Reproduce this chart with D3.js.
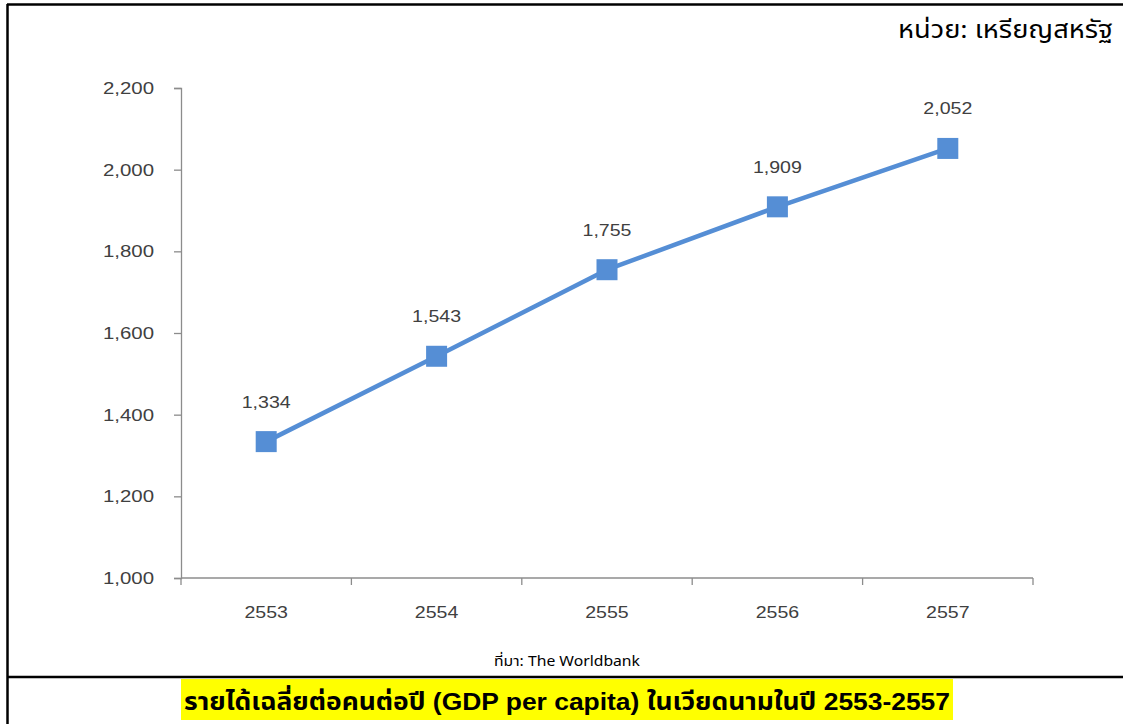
<!DOCTYPE html>
<html>
<head>
<meta charset="utf-8">
<script src="https://cdn.jsdelivr.net/npm/d3@7"></script>
<style>
  html, body { margin: 0; padding: 0; background: #fff; }
  svg { display: block; }
</style>
</head>
<body>
<svg id="chart" width="1123" height="724"></svg>
<script>
// GDP per capita, Vietnam (USD), Buddhist-era years
const years = ["2553", "2554", "2555", "2556", "2557"];
const gdpValues = [1334, 1543, 1755, 1909, 2052];
const yTicks = [1000, 1200, 1400, 1600, 1800, 2000, 2200];

const unitText = "หน่วย: เหรียญสหรัฐ";
const sourceText = "ที่มา: The Worldbank";
const titleText = "รายได้เฉลี่ยต่อคนต่อปี (GDP per capita) ในเวียดนามในปี 2553-2557";

const svg = d3.select("#chart");
const W = 1123, H = 724;
const plot = { left: 181, right: 1033, top: 88, bottom: 578 };

const thaiFont = "Tahoma, 'Noto Sans Thai', 'Leelawadee UI', sans-serif";
const numFont = "Arial, 'Liberation Sans', sans-serif";

// widen text horizontally by a factor (glyphs are drawn a little wide)
function stretch(sel, factor) {
  sel.each(function () {
    const w = this.getComputedTextLength();
    d3.select(this).attr("textLength", w * factor).attr("lengthAdjust", "spacingAndGlyphs");
  });
}

// frame
svg.append("line").attr("x1", 7).attr("x2", W).attr("y1", 4.5).attr("y2", 4.5)
  .attr("stroke", "#000").attr("stroke-width", 2.5);
svg.append("line").attr("x1", 7.5).attr("x2", 7.5).attr("y1", 4).attr("y2", H)
  .attr("stroke", "#000").attr("stroke-width", 2.5);
svg.append("line").attr("x1", 7).attr("x2", W).attr("y1", 677).attr("y2", 677)
  .attr("stroke", "#000").attr("stroke-width", 2.5);

const x = d3.scaleBand().domain(years).range([plot.left, plot.right]);
const y = d3.scaleLinear().domain([1000, 2200]).range([plot.bottom, plot.top]);

// y axis
const yAxis = svg.append("g")
  .attr("transform", `translate(${plot.left},0)`)
  .call(d3.axisLeft(y).tickValues(yTicks).tickFormat(d3.format(",")).tickSize(7).tickPadding(20));
yAxis.select(".domain").attr("stroke", "#8c8c8c").attr("stroke-width", 1.3);
yAxis.selectAll(".tick line").attr("stroke", "#8c8c8c").attr("stroke-width", 1.3);
yAxis.selectAll(".tick text").attr("font-family", numFont).attr("font-size", 17)
  .attr("fill", "#404040").call(stretch, 1.2);

// x axis with tick marks on the band edges
const xAxis = svg.append("g")
  .attr("transform", `translate(0,${plot.bottom})`)
  .call(d3.axisBottom(x).tickSize(0).tickPadding(28));
xAxis.select(".domain").remove();
xAxis.selectAll(".tick text").attr("font-family", numFont).attr("font-size", 17)
  .attr("fill", "#404040").call(stretch, 1.15);
svg.append("line").attr("x1", plot.left).attr("x2", plot.right)
  .attr("y1", plot.bottom).attr("y2", plot.bottom)
  .attr("stroke", "#8c8c8c").attr("stroke-width", 1.3);
const edges = years.map(d => x(d)).concat([plot.right]);
svg.append("g").selectAll("line").data(edges).join("line")
  .attr("x1", d => d).attr("x2", d => d)
  .attr("y1", plot.bottom).attr("y2", plot.bottom + 7)
  .attr("stroke", "#8c8c8c").attr("stroke-width", 1.3);

// series
const pts = years.map((yr, i) => ({ yr, v: gdpValues[i] }));
const cx = d => x(d.yr) + x.bandwidth() / 2;
const blue = "#558ed5";

svg.append("path").datum(pts)
  .attr("fill", "none").attr("stroke", blue).attr("stroke-width", 4.5)
  .attr("stroke-linejoin", "round")
  .attr("d", d3.line().x(cx).y(d => y(d.v)));

const ms = 21;
svg.append("g").selectAll("rect").data(pts).join("rect")
  .attr("x", d => cx(d) - ms / 2).attr("y", d => y(d.v) - ms / 2)
  .attr("width", ms).attr("height", ms).attr("fill", blue);

svg.append("g").selectAll("text").data(pts).join("text")
  .attr("x", cx).attr("y", d => y(d.v) - 34)
  .attr("text-anchor", "middle")
  .attr("font-family", numFont).attr("font-size", 17).attr("fill", "#404040")
  .text(d => d3.format(",")(d.v))
  .call(stretch, 1.15);

// unit note
svg.append("text").attr("x", 1113).attr("y", 38).attr("text-anchor", "end")
  .attr("font-family", thaiFont).attr("font-size", 24).attr("fill", "#000")
  .text(unitText)
  .attr("textLength", 215).attr("lengthAdjust", "spacingAndGlyphs");

// source
svg.append("text").attr("x", 567).attr("y", 666).attr("text-anchor", "middle")
  .attr("font-family", thaiFont).attr("font-size", 14).attr("fill", "#000")
  .text(sourceText)
  .attr("textLength", 146).attr("lengthAdjust", "spacingAndGlyphs");

// title with yellow highlight
svg.append("rect")
  .attr("x", 181).attr("y", 679).attr("width", 772).attr("height", 41)
  .attr("fill", "#ffff00");
svg.append("text").attr("x", 567).attr("y", 710).attr("text-anchor", "middle")
  .attr("font-family", "Arial, 'Liberation Sans', " + thaiFont).attr("font-weight", "bold")
  .attr("font-size", 24).attr("fill", "#000")
  .text(titleText)
  .attr("textLength", 766).attr("lengthAdjust", "spacingAndGlyphs");
</script>
</body>
</html>
